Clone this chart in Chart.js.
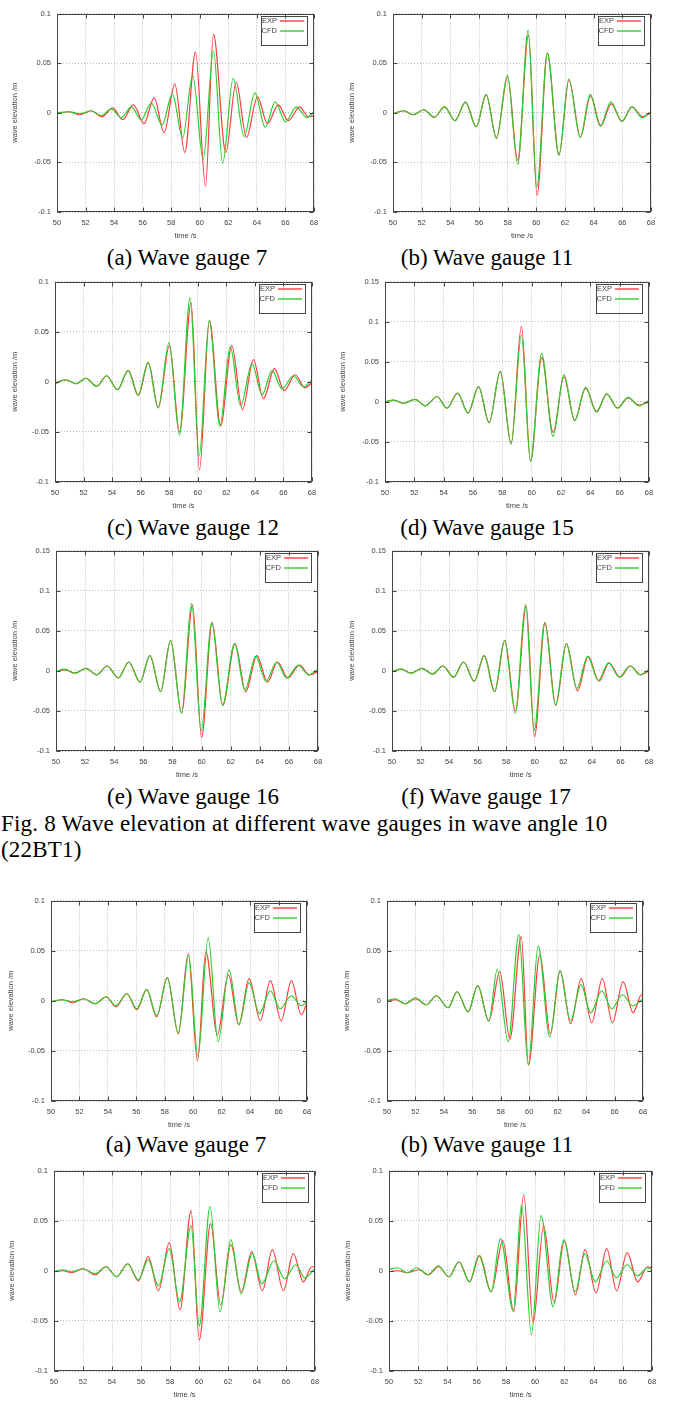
<!DOCTYPE html>
<html lang="en">
<head>
<meta charset="UTF-8">
<title>Wave elevation at different wave gauges</title>
<script src="https://cdn.jsdelivr.net/npm/chart.js"></script>
<style>
    * { margin: 0; padding: 0; box-sizing: border-box; }
    body {
        width: 674px;
        height: 1401px;
        background: #fff;
        position: relative;
        overflow: hidden;
    }
    .plot { position: absolute; width: 337px; }
    .cap {
        position: absolute;
        font-family: 'Liberation Serif', 'Times New Roman', serif;
        font-size: 23px;
        line-height: 23px;
        color: #000;
        white-space: nowrap;
        transform: translateX(-50%);
    }
    .fig {
        position: absolute;
        left: 1px;
        font-family: 'Liberation Serif', 'Times New Roman', serif;
        font-size: 23px;
        line-height: 26px;
        letter-spacing: 0.2px;
        color: #000;
        white-space: nowrap;
    }
</style>
</head>
<body>

<div class="cap" style="left:187px;top:246px">(a) Wave gauge 7</div>
<div class="cap" style="left:487px;top:246px">(b) Wave gauge 11</div>
<div class="cap" style="left:193px;top:516px">(c) Wave gauge 12</div>
<div class="cap" style="left:487px;top:516px">(d) Wave gauge 15</div>
<div class="cap" style="left:193px;top:785px">(e) Wave gauge 16</div>
<div class="cap" style="left:486px;top:785px">(f) Wave gauge 17</div>
<div class="fig" style="top:811px">Fig. 8 Wave elevation at different wave gauges in wave angle 10<br>(22BT1)</div>
<div class="cap" style="left:186px;top:1133px">(a) Wave gauge 7</div>
<div class="cap" style="left:487px;top:1133px">(b) Wave gauge 11</div>

<script>
// tick labels
const xTicks = [50, 52, 54, 56, 58, 60, 62, 64, 66, 68];
const yTicksSmall = [-0.1, -0.05, 0, 0.05, 0.1];
const yTicksLarge = [-0.1, -0.05, 0, 0.05, 0.1, 0.15];

// Fig. 8 - wave angle 10, [time s, elevation m] at crests / troughs
const g7_exp = [[50,-0.001],[50.8,0.001],[51.6,-0.002],[52.4,0.002],[53.15,-0.004],[53.9,0.005],[54.6,-0.007],[55.35,0.008],[56.1,-0.011],[56.8,0.015],[57.5,-0.020],[58.25,0.029],[58.95,-0.040],[59.7,0.061],[60.4,-0.074],[60.96,0.079],[61.82,-0.040],[62.55,0.031],[63.27,-0.025],[64.04,0.016],[64.74,-0.011],[65.5,0.008],[66.2,-0.008],[67.0,0.006],[67.6,-0.004],[68,-0.003]];
const g7_cfd = [[50,0],[50.9,0.001],[51.6,-0.001],[52.4,0.002],[53.1,-0.003],[53.8,0.004],[54.5,-0.005],[55.2,0.006],[55.9,-0.007],[56.6,0.0096],[57.36,-0.012],[58.08,0.019],[58.8,-0.0255],[59.5,0.038],[60.24,-0.047],[60.96,0.0625],[61.6,-0.051],[62.34,0.035],[63.1,-0.024],[63.86,0.020],[64.58,-0.0146],[65.28,0.011],[66.0,-0.009],[66.77,0.006],[67.5,-0.005],[68,0.001]];

const g11_exp = [[50,-0.001],[50.75,0.002],[51.4,-0.002],[52.15,0.003],[52.88,-0.0045],[53.6,0.006],[54.32,-0.008],[55.06,0.0105],[55.8,-0.014],[56.5,0.018],[57.22,-0.025],[58.0,0.036],[58.7,-0.048],[59.45,0.078],[60.05,-0.083],[60.77,0.060],[61.58,-0.042],[62.28,0.033],[63.08,-0.0245],[63.78,0.017],[64.5,-0.013],[65.22,0.009],[65.98,-0.0086],[66.68,0.006],[67.4,-0.004],[68,0]];
const g11_cfd = [[50,-0.001],[50.75,0.002],[51.4,-0.002],[52.15,0.003],[52.88,-0.0045],[53.6,0.006],[54.32,-0.008],[55.06,0.011],[55.8,-0.014],[56.5,0.0185],[57.22,-0.026],[57.98,0.038],[58.7,-0.052],[59.43,0.083],[60.03,-0.075],[60.77,0.060],[61.58,-0.043],[62.26,0.034],[63.06,-0.025],[63.76,0.0185],[64.46,-0.0135],[65.2,0.011],[65.96,-0.0088],[66.66,0.006],[67.37,-0.005],[68,0.001]];

const g12_exp = [[50,-0.002],[50.75,0.002],[51.47,-0.002],[52.17,0.0035],[52.92,-0.0045],[53.62,0.006],[54.37,-0.008],[55.14,0.011],[55.84,-0.0135],[56.54,0.019],[57.24,-0.026],[58.01,0.036],[58.73,-0.050],[59.53,0.079],[60.12,-0.088],[60.82,0.061],[61.6,-0.044],[62.38,0.036],[63.13,-0.028],[63.9,0.022],[64.6,-0.017],[65.37,0.013],[66.05,-0.009],[66.82,0.007],[67.5,-0.006],[68,-0.001]];
const g12_cfd = [[50,-0.001],[50.75,0.002],[51.47,-0.002],[52.17,0.0035],[52.92,-0.0045],[53.62,0.006],[54.37,-0.008],[55.12,0.011],[55.82,-0.0135],[56.52,0.019],[57.22,-0.026],[57.99,0.039],[58.71,-0.053],[59.46,0.084],[60.1,-0.074],[60.8,0.061],[61.55,-0.044],[62.27,0.035],[63.0,-0.024],[63.8,0.018],[64.5,-0.013],[65.2,0.011],[65.9,-0.007],[66.7,0.006],[67.4,-0.005],[68,0.002]];

const g15_exp = [[50,0],[50.6,0.002],[51.25,-0.002],[52.05,0.003],[52.75,-0.005],[53.55,0.0066],[54.22,-0.008],[54.95,0.0107],[55.66,-0.014],[56.38,0.019],[57.1,-0.026],[57.86,0.038],[58.6,-0.052],[59.3,0.094],[59.92,-0.074],[60.68,0.055],[61.46,-0.038],[62.2,0.031],[62.93,-0.023],[63.68,0.017],[64.42,-0.012],[65.12,0.0095],[65.85,-0.0075],[66.57,0.005],[67.32,-0.004],[68,0]];
const g15_cfd = [[50,0],[50.6,0.002],[51.25,-0.002],[52.05,0.003],[52.75,-0.005],[53.55,0.0066],[54.22,-0.008],[54.95,0.011],[55.66,-0.014],[56.38,0.019],[57.1,-0.026],[57.86,0.038],[58.6,-0.053],[59.3,0.083],[59.92,-0.074],[60.68,0.060],[61.46,-0.043],[62.2,0.034],[62.93,-0.0235],[63.68,0.018],[64.42,-0.013],[65.12,0.010],[65.85,-0.008],[66.57,0.0055],[67.32,-0.005],[68,0.002]];

const g16_exp = [[50,-0.001],[50.65,0.001],[51.3,-0.003],[52.06,0.003],[52.8,-0.005],[53.52,0.006],[54.28,-0.009],[55.0,0.011],[55.77,-0.014],[56.45,0.019],[57.19,-0.026],[57.87,0.038],[58.63,-0.052],[59.38,0.082],[60.0,-0.083],[60.73,0.060],[61.46,-0.043],[62.3,0.034],[63.04,-0.026],[63.8,0.019],[64.53,-0.014],[65.22,0.011],[65.92,-0.009],[66.72,0.007],[67.42,-0.005],[68,-0.001]];
const g16_cfd = [[50,-0.001],[50.6,0.002],[51.3,-0.003],[52.06,0.003],[52.8,-0.005],[53.52,0.006],[54.28,-0.009],[55.0,0.011],[55.77,-0.014],[56.45,0.019],[57.19,-0.026],[57.87,0.038],[58.63,-0.053],[59.31,0.084],[59.98,-0.075],[60.7,0.060],[61.44,-0.043],[62.27,0.034],[62.98,-0.024],[63.72,0.018],[64.43,-0.013],[65.15,0.011],[65.85,-0.009],[66.65,0.007],[67.35,-0.005],[68,0.002]];

const g17_exp = [[50,-0.001],[50.65,0.002],[51.33,-0.003],[52.1,0.003],[52.85,-0.004],[53.57,0.006],[54.32,-0.008],[55.02,0.011],[55.77,-0.013],[56.47,0.019],[57.2,-0.026],[57.9,0.038],[58.65,-0.050],[59.4,0.081],[59.98,-0.082],[60.72,0.060],[61.47,-0.043],[62.22,0.034],[62.99,-0.025],[63.74,0.018],[64.5,-0.013],[65.2,0.010],[65.97,-0.008],[66.7,0.006],[67.42,-0.005],[68,0]];
const g17_cfd = [[50,-0.001],[50.65,0.002],[51.33,-0.003],[52.1,0.003],[52.85,-0.004],[53.57,0.006],[54.32,-0.008],[55.0,0.011],[55.75,-0.013],[56.45,0.019],[57.18,-0.026],[57.88,0.038],[58.64,-0.053],[59.35,0.083],[59.96,-0.074],[60.7,0.060],[61.45,-0.043],[62.2,0.034],[62.95,-0.022],[63.7,0.018],[64.45,-0.012],[65.17,0.010],[65.92,-0.008],[66.66,0.006],[67.38,-0.005],[68,0.002]];

// next figure (cut off): gauges 7 and 11, two rows
const g7b_exp = [[50,-0.001],[50.8,0.001],[51.54,-0.002],[52.29,0.002],[53.1,-0.003],[53.88,0.004],[54.56,-0.006],[55.33,0.007],[56.03,-0.009],[56.73,0.011],[57.43,-0.016],[58.18,0.023],[58.95,-0.033],[59.65,0.047],[60.3,-0.060],[60.89,0.049],[61.7,-0.034],[62.47,0.026],[63.2,-0.024],[63.93,0.022],[64.72,-0.020],[65.42,0.020],[66.19,-0.020],[66.9,0.020],[67.6,-0.014],[68,-0.002]];
const g7b_cfd = [[50,-0.001],[50.8,0.001],[51.54,-0.001],[52.29,0.002],[53.1,-0.003],[53.88,0.004],[54.56,-0.005],[55.33,0.007],[56.03,-0.008],[56.73,0.011],[57.43,-0.015],[58.18,0.023],[58.95,-0.032],[59.68,0.045],[60.33,-0.056],[61.05,0.063],[61.75,-0.041],[62.52,0.031],[63.22,-0.024],[63.93,0.018],[64.65,-0.013],[65.42,0.010],[66.1,-0.008],[66.9,0.005],[67.6,-0.005],[68,0]];

const g11b_exp = [[50,-0.001],[50.6,0.001],[51.29,-0.003],[52.0,0.002],[52.77,-0.004],[53.47,0.005],[54.3,-0.007],[54.93,0.009],[55.7,-0.011],[56.38,0.015],[57.16,-0.020],[57.93,0.029],[58.64,-0.038],[59.44,0.064],[59.95,-0.064],[60.75,0.046],[61.48,-0.033],[62.18,0.030],[62.91,-0.023],[63.66,0.022],[64.39,-0.022],[65.14,0.022],[65.85,-0.022],[66.6,0.019],[67.3,-0.012],[67.9,0.006],[68,0.006]];
const g11b_cfd = [[50,0],[50.59,0.002],[51.29,-0.003],[52.0,0.003],[52.77,-0.004],[53.47,0.005],[54.3,-0.007],[54.93,0.009],[55.7,-0.011],[56.38,0.015],[57.16,-0.020],[57.75,0.031],[58.52,-0.041],[59.27,0.066],[59.93,-0.064],[60.63,0.055],[61.45,-0.036],[62.16,0.030],[62.9,-0.020],[63.64,0.016],[64.32,-0.012],[65.1,0.010],[65.8,-0.008],[66.55,0.006],[67.28,-0.005],[68,0.002]];

const g7c_exp = [[50,-0.001],[50.6,0],[51.22,-0.002],[52.0,0.002],[52.83,-0.004],[53.59,0.004],[54.32,-0.006],[55.08,0.007],[55.82,-0.010],[56.5,0.014],[57.2,-0.020],[57.95,0.028],[58.69,-0.039],[59.45,0.060],[60.02,-0.069],[60.8,0.047],[61.5,-0.034],[62.2,0.026],[62.92,-0.021],[63.63,0.019],[64.37,-0.020],[65.06,0.021],[65.82,-0.020],[66.5,0.017],[67.2,-0.011],[67.77,0.004],[68,0.004]];
const g7c_cfd = [[50,-0.001],[50.6,0.001],[51.22,-0.001],[52.0,0.002],[52.83,-0.003],[53.59,0.004],[54.32,-0.006],[55.08,0.007],[55.82,-0.009],[56.5,0.011],[57.2,-0.015],[57.95,0.022],[58.66,-0.031],[59.45,0.045],[60.02,-0.055],[60.76,0.064],[61.45,-0.041],[62.2,0.031],[62.9,-0.023],[63.68,0.017],[64.33,-0.013],[65.18,0.010],[65.9,-0.008],[66.67,0.006],[67.3,-0.007],[68,0.002]];

const g11c_exp = [[50,-0.001],[50.57,0],[51.25,-0.002],[52.05,0.001],[52.67,-0.004],[53.4,0.004],[54.1,-0.006],[54.8,0.009],[55.51,-0.011],[56.2,0.015],[56.99,-0.021],[57.79,0.030],[58.54,-0.041],[59.22,0.076],[59.86,-0.052],[60.59,0.045],[61.3,-0.032],[62.0,0.030],[62.76,-0.024],[63.42,0.021],[64.17,-0.022],[64.9,0.022],[65.58,-0.020],[66.3,0.018],[67.02,-0.011],[67.7,0.004],[68,0.003]];
const g11c_cfd = [[50,0.001],[50.57,0.003],[51.25,-0.002],[51.9,0.003],[52.67,-0.004],[53.37,0.005],[54.1,-0.006],[54.78,0.009],[55.51,-0.011],[56.15,0.015],[56.99,-0.021],[57.63,0.032],[58.5,-0.040],[59.07,0.066],[59.75,-0.064],[60.41,0.055],[61.23,-0.036],[61.96,0.031],[62.75,-0.021],[63.4,0.017],[64.12,-0.011],[64.9,0.010],[65.56,-0.007],[66.29,0.006],[67.02,-0.005],[67.7,0.003],[68,0.002]];

const seriesNames = ['EXP', 'CFD'];

// where each plot box sits on the page (col = left edge of its column)
const panels = [
    { col: 0,   L: 57,  R: 314, T: 11,   B: 212,  tx: 15, exp: g7_exp,   cfd: g7_cfd,   yt: yTicksSmall },
    { col: 337, L: 393, R: 651, T: 11,   B: 212,  tx: 15, exp: g11_exp,  cfd: g11_cfd,  yt: yTicksSmall },
    { col: 0,   L: 55,  R: 312, T: 279,  B: 482,  tx: 15, exp: g12_exp,  cfd: g12_cfd,  yt: yTicksSmall },
    { col: 337, L: 385, R: 649, T: 279,  B: 482,  tx: 6,  exp: g15_exp,  cfd: g15_cfd,  yt: yTicksLarge },
    { col: 0,   L: 56,  R: 318, T: 548,  B: 751,  tx: 15, exp: g16_exp,  cfd: g16_cfd,  yt: yTicksLarge },
    { col: 337, L: 392, R: 649, T: 548,  B: 751,  tx: 15, exp: g17_exp,  cfd: g17_cfd,  yt: yTicksLarge },
    { col: 0,   L: 51,  R: 307, T: 898,  B: 1101, tx: 11, exp: g7b_exp,  cfd: g7b_cfd,  yt: yTicksSmall },
    { col: 337, L: 387, R: 643, T: 898,  B: 1101, tx: 10, exp: g11b_exp, cfd: g11b_cfd, yt: yTicksSmall },
    { col: 0,   L: 54,  R: 315, T: 1168, B: 1371, tx: 12, exp: g7c_exp,  cfd: g7c_cfd,  yt: yTicksSmall },
    { col: 337, L: 389, R: 652, T: 1168, B: 1371, tx: 11, exp: g11c_exp, cfd: g11c_cfd, yt: yTicksSmall }
];

const TOP_PAD = 8;
const X_AXIS_H = 32;
const TXT = '#444';
const EXP_COLOR = 'rgb(255,60,60)';
const CFD_COLOR = 'rgb(45,205,45)';
const lineColors = [EXP_COLOR, CFD_COLOR];

Chart.defaults.font.family = "'Liberation Sans', Arial, sans-serif";
Chart.defaults.font.size = 7.5;
Chart.defaults.color = TXT;

// gnuplot style frame with inward tick marks on all sides
const framePlugin = {
    id: 'frame',
    afterDatasetsDraw(chart) {
        const { ctx, chartArea: a, scales } = chart;
        ctx.save();
        ctx.strokeStyle = '#444';
        ctx.lineWidth = 1;
        const l = Math.round(a.left) + 0.5, r = Math.round(a.right) - 0.5;
        const t = Math.round(a.top) + 0.5, b = Math.round(a.bottom) - 0.5;
        ctx.strokeRect(l, t, r - l, b - t);
        ctx.beginPath();
        scales.x.ticks.forEach(tk => {
            const px = Math.round(scales.x.getPixelForValue(tk.value)) + 0.5;
            ctx.moveTo(px, b); ctx.lineTo(px, b - 4);
            ctx.moveTo(px, t); ctx.lineTo(px, t + 4);
        });
        scales.y.ticks.forEach(tk => {
            const py = Math.round(scales.y.getPixelForValue(tk.value)) + 0.5;
            ctx.moveTo(l, py); ctx.lineTo(l + 4, py);
            ctx.moveTo(r, py); ctx.lineTo(r - 4, py);
        });
        ctx.stroke();
        ctx.restore();
    }
};

// key box in the top right corner
const keyPlugin = {
    id: 'key',
    afterDraw(chart) {
        const { ctx, chartArea: a } = chart;
        const r = Math.round(a.right), t = Math.round(a.top);
        ctx.save();
        ctx.lineWidth = 1;
        ctx.strokeStyle = '#444';
        ctx.strokeRect(r - 52.5, t + 2.5, 46, 29);
        ctx.font = "7.5px 'Liberation Sans', Arial, sans-serif";
        ctx.fillStyle = TXT;
        ctx.textAlign = 'right';
        ctx.textBaseline = 'middle';
        chart.data.datasets.forEach((ds, i) => {
            const y = t + 7 + i * 10;
            ctx.fillText(ds.label, r - 37, y);
            ctx.save();
            ctx.strokeStyle = lineColors[i];
            ctx.lineWidth = 1.4;
            ctx.beginPath();
            ctx.moveTo(r - 34, y);
            ctx.lineTo(r - 10, y);
            ctx.stroke();
            ctx.restore();
        });
        ctx.restore();
    }
};

function fmt(v) {
    return String(Number(v.toFixed(3)));
}

panels.forEach((p, i) => {
    const box = document.createElement('div');
    box.className = 'plot';
    box.style.left = p.col + 'px';
    box.style.top = (p.T - TOP_PAD) + 'px';
    box.style.height = (p.B - p.T + TOP_PAD + X_AXIS_H) + 'px';
    const cv = document.createElement('canvas');
    cv.id = 'plot' + i;
    box.appendChild(cv);
    document.body.appendChild(box);

    new Chart(cv, {
        type: 'line',
        data: {
            datasets: [
                {
                    label: seriesNames[0],
                    data: p.exp.map(d => ({ x: d[0], y: d[1] })),
                    borderColor: EXP_COLOR,
                    borderWidth: 1.2,
                    pointRadius: 0,
                    cubicInterpolationMode: 'monotone',
                    order: 1
                },
                {
                    label: seriesNames[1],
                    data: p.cfd.map(d => ({ x: d[0], y: d[1] })),
                    borderColor: CFD_COLOR,
                    borderWidth: 1.2,
                    pointRadius: 0,
                    cubicInterpolationMode: 'monotone',
                    order: 0
                }
            ]
        },
        options: {
            responsive: true,
            maintainAspectRatio: false,
            animation: false,
            layout: { padding: { top: TOP_PAD, right: p.col + 337 - p.R, left: 0, bottom: 0 } },
            plugins: { legend: { display: false }, tooltip: { enabled: false } },
            scales: {
                x: {
                    type: 'linear',
                    min: xTicks[0],
                    max: xTicks[xTicks.length - 1],
                    afterBuildTicks: s => { s.ticks = xTicks.map(v => ({ value: v })); },
                    afterFit: s => { s.height = X_AXIS_H; },
                    grid: { color: '#bbb', lineWidth: 1, drawTicks: false },
                    border: { display: false, dash: [1, 2] },
                    ticks: { padding: 6, maxRotation: 0, autoSkip: false, color: TXT, callback: v => fmt(v) },
                    title: { display: true, text: 'time /s', color: TXT, padding: { top: 0, bottom: 3.5 } }
                },
                y: {
                    min: p.yt[0],
                    max: p.yt[p.yt.length - 1],
                    afterBuildTicks: s => { s.ticks = p.yt.map(v => ({ value: v })); },
                    afterFit: s => { s.width = p.L - p.col; },
                    grid: { color: '#bbb', lineWidth: 1, drawTicks: false },
                    border: { display: false, dash: [1, 2] },
                    ticks: { padding: 6, autoSkip: false, color: TXT, callback: v => fmt(v) },
                    title: { display: true, text: 'wave elevation /m', color: TXT, padding: { top: p.tx - 4.5, bottom: 0 } }
                }
            }
        },
        plugins: [framePlugin, keyPlugin]
    });
});
</script>
</body>
</html>
